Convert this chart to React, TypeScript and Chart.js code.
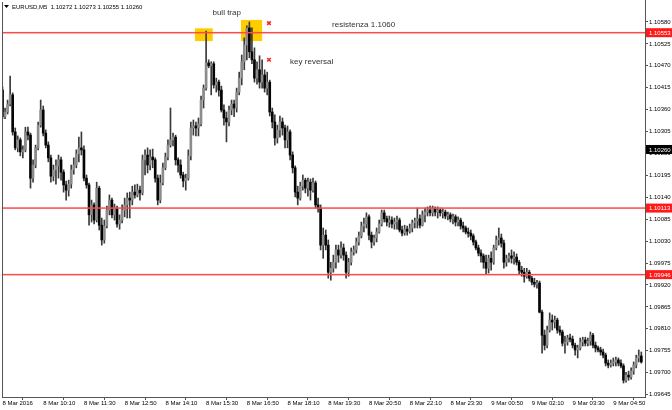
import React, { useEffect, useRef } from 'react';
import { Chart, registerables } from 'chart.js';

Chart.register(...registerables);

// EURUSD M5 bars, 8 Mar 2016 08:50 -> 9 Mar 05:45 (one entry per 5-minute bar)
const openP = [
  1.10409, 1.10342, 1.10354, 1.10374, 1.10397, 1.10304, 1.10264, 1.10284, 1.10254, 1.10259,
  1.10304, 1.10296, 1.10188, 1.10221, 1.10264, 1.10321, 1.10359, 1.10301, 1.10271, 1.10239,
  1.10193, 1.10209, 1.10219, 1.10234, 1.10203, 1.10171, 1.10158, 1.10173, 1.10209, 1.10221,
  1.10249, 1.10264, 1.10259, 1.10188, 1.10171, 1.10096, 1.10121, 1.10083, 1.10163, 1.10070,
  1.10033, 1.10068, 1.10108, 1.10133, 1.10096, 1.10113, 1.10073, 1.10083, 1.10108, 1.10121,
  1.10138, 1.10133, 1.10153, 1.10146, 1.10158, 1.10151, 1.10234, 1.10246, 1.10221, 1.10241,
  1.10234, 1.10188, 1.10133, 1.10176, 1.10214, 1.10241, 1.10271, 1.10284, 1.10291, 1.10234,
  1.10221, 1.10196, 1.10181, 1.10188, 1.10244, 1.10314, 1.10319, 1.10314, 1.10324, 1.10384,
  1.10414, 1.10477, 1.10470, 1.10475, 1.10422, 1.10429, 1.10409, 1.10359, 1.10339, 1.10329,
  1.10359, 1.10374, 1.10364, 1.10404, 1.10439, 1.10480, 1.10522, 1.10565, 1.10505, 1.10485,
  1.10439, 1.10460, 1.10429, 1.10447, 1.10414, 1.10429, 1.10354, 1.10329, 1.10289, 1.10309,
  1.10329, 1.10314, 1.10284, 1.10304, 1.10246, 1.10214, 1.10153, 1.10138, 1.10168, 1.10183,
  1.10163, 1.10178, 1.10158, 1.10176, 1.10121, 1.10113, 1.10020, 1.10045, 1.10020, 1.09952,
  1.09962, 1.09977, 1.10008, 1.09995, 1.10013, 1.09995, 1.09952, 1.09977, 1.10003, 1.10008,
  1.10028, 1.10043, 1.10068, 1.10073, 1.10091, 1.10045, 1.10028, 1.10038, 1.10053, 1.10073,
  1.10101, 1.10086, 1.10078, 1.10083, 1.10073, 1.10078, 1.10083, 1.10058, 1.10050, 1.10060,
  1.10055, 1.10063, 1.10076, 1.10081, 1.10086, 1.10070, 1.10096, 1.10103, 1.10108, 1.10101,
  1.10111, 1.10103, 1.10108, 1.10101, 1.10103, 1.10093, 1.10096, 1.10086, 1.10091, 1.10078,
  1.10083, 1.10068, 1.10063, 1.10053, 1.10050, 1.10043, 1.10028, 1.10013, 1.10000, 1.09993,
  1.09977, 1.09962, 1.09987, 1.09977, 1.10013, 1.10033, 1.10038, 1.10025, 1.09977, 1.09987,
  1.09993, 1.09987, 1.09990, 1.09977, 1.09957, 1.09952, 1.09942, 1.09952, 1.09937, 1.09927,
  1.09922, 1.09925, 1.09852, 1.09794, 1.09769, 1.09807, 1.09832, 1.09827, 1.09832, 1.09807,
  1.09802, 1.09774, 1.09777, 1.09787, 1.09784, 1.09769, 1.09757, 1.09762, 1.09777, 1.09782,
  1.09774, 1.09779, 1.09794, 1.09769, 1.09762, 1.09757, 1.09752, 1.09744, 1.09724, 1.09719,
  1.09724, 1.09727, 1.09732, 1.09724, 1.09717, 1.09681, 1.09694, 1.09689, 1.09704, 1.09719,
  1.09737, 1.09742,
];

const highP = [
  1.10417, 1.10364, 1.10384, 1.10444, 1.10402, 1.10314, 1.10294, 1.10289, 1.10269, 1.10316,
  1.10316, 1.10301, 1.10234, 1.10271, 1.10329, 1.10384, 1.10369, 1.10309, 1.10279, 1.10246,
  1.10221, 1.10234, 1.10246, 1.10241, 1.10209, 1.10181, 1.10183, 1.10221, 1.10239, 1.10259,
  1.10291, 1.10304, 1.10269, 1.10196, 1.10176, 1.10133, 1.10126, 1.10178, 1.10168, 1.10088,
  1.10083, 1.10118, 1.10146, 1.10138, 1.10123, 1.10118, 1.10096, 1.10121, 1.10138, 1.10151,
  1.10153, 1.10168, 1.10171, 1.10173, 1.10168, 1.10246, 1.10259, 1.10264, 1.10259, 1.10261,
  1.10239, 1.10196, 1.10196, 1.10226, 1.10251, 1.10284, 1.10364, 1.10301, 1.10296, 1.10239,
  1.10234, 1.10203, 1.10198, 1.10259, 1.10329, 1.10334, 1.10329, 1.10339, 1.10394, 1.10422,
  1.10557, 1.10485, 1.10480, 1.10480, 1.10439, 1.10434, 1.10419, 1.10372, 1.10354, 1.10369,
  1.10384, 1.10384, 1.10414, 1.10454, 1.10497, 1.10540, 1.10570, 1.10580, 1.10565, 1.10515,
  1.10480, 1.10495, 1.10485, 1.10460, 1.10454, 1.10434, 1.10364, 1.10347, 1.10321, 1.10344,
  1.10339, 1.10321, 1.10319, 1.10309, 1.10254, 1.10219, 1.10168, 1.10178, 1.10196, 1.10188,
  1.10188, 1.10186, 1.10188, 1.10181, 1.10138, 1.10121, 1.10063, 1.10058, 1.10033, 1.09977,
  1.09995, 1.10020, 1.10020, 1.10028, 1.10023, 1.10003, 1.09987, 1.10013, 1.10018, 1.10038,
  1.10053, 1.10078, 1.10088, 1.10101, 1.10096, 1.10053, 1.10045, 1.10063, 1.10083, 1.10108,
  1.10108, 1.10093, 1.10093, 1.10091, 1.10088, 1.10093, 1.10088, 1.10068, 1.10070, 1.10068,
  1.10073, 1.10083, 1.10088, 1.10113, 1.10096, 1.10106, 1.10113, 1.10116, 1.10118, 1.10118,
  1.10116, 1.10116, 1.10113, 1.10111, 1.10108, 1.10103, 1.10101, 1.10098, 1.10096, 1.10091,
  1.10088, 1.10078, 1.10068, 1.10063, 1.10058, 1.10048, 1.10033, 1.10020, 1.10008, 1.09998,
  1.09995, 1.09995, 1.10003, 1.10020, 1.10043, 1.10063, 1.10048, 1.10033, 1.09995, 1.10000,
  1.10008, 1.10003, 1.09998, 1.09982, 1.09967, 1.09962, 1.09962, 1.09957, 1.09942, 1.09937,
  1.09932, 1.09930, 1.09857, 1.09807, 1.09817, 1.09850, 1.09845, 1.09842, 1.09837, 1.09817,
  1.09807, 1.09792, 1.09794, 1.09797, 1.09792, 1.09774, 1.09769, 1.09787, 1.09789, 1.09789,
  1.09787, 1.09802, 1.09799, 1.09777, 1.09767, 1.09764, 1.09759, 1.09749, 1.09732, 1.09732,
  1.09737, 1.09739, 1.09737, 1.09732, 1.09722, 1.09701, 1.09704, 1.09712, 1.09727, 1.09744,
  1.09757, 1.09752,
];

const lowP = [
  1.10337, 1.10337, 1.10349, 1.10369, 1.10296, 1.10259, 1.10254, 1.10244, 1.10239, 1.10254,
  1.10284, 1.10163, 1.10178, 1.10214, 1.10259, 1.10316, 1.10294, 1.10264, 1.10229, 1.10178,
  1.10181, 1.10173, 1.10188, 1.10183, 1.10153, 1.10133, 1.10143, 1.10163, 1.10198, 1.10214,
  1.10229, 1.10246, 1.10181, 1.10163, 1.10070, 1.10078, 1.10073, 1.10078, 1.10058, 1.10020,
  1.10025, 1.10063, 1.10096, 1.10088, 1.10083, 1.10065, 1.10060, 1.10076, 1.10091, 1.10088,
  1.10088, 1.10121, 1.10138, 1.10141, 1.10133, 1.10146, 1.10196, 1.10201, 1.10209, 1.10214,
  1.10178, 1.10121, 1.10126, 1.10171, 1.10209, 1.10234, 1.10266, 1.10269, 1.10221, 1.10203,
  1.10188, 1.10166, 1.10158, 1.10183, 1.10234, 1.10296, 1.10294, 1.10294, 1.10319, 1.10364,
  1.10409, 1.10465, 1.10397, 1.10414, 1.10404, 1.10394, 1.10354, 1.10321, 1.10279, 1.10319,
  1.10347, 1.10342, 1.10354, 1.10397, 1.10422, 1.10460, 1.10485, 1.10490, 1.10475, 1.10429,
  1.10424, 1.10414, 1.10414, 1.10404, 1.10397, 1.10344, 1.10314, 1.10271, 1.10276, 1.10291,
  1.10296, 1.10264, 1.10264, 1.10234, 1.10201, 1.10141, 1.10121, 1.10133, 1.10158, 1.10151,
  1.10143, 1.10133, 1.10153, 1.10113, 1.10103, 1.10008, 1.09987, 1.10008, 1.09937, 1.09932,
  1.09952, 1.09962, 1.09977, 1.09987, 1.09982, 1.09937, 1.09942, 1.09970, 1.09995, 1.10000,
  1.10020, 1.10038, 1.10053, 1.10063, 1.10033, 1.10013, 1.10020, 1.10028, 1.10050, 1.10068,
  1.10078, 1.10068, 1.10065, 1.10063, 1.10060, 1.10060, 1.10053, 1.10043, 1.10045, 1.10045,
  1.10050, 1.10053, 1.10063, 1.10063, 1.10063, 1.10068, 1.10078, 1.10093, 1.10093, 1.10093,
  1.10093, 1.10088, 1.10093, 1.10088, 1.10086, 1.10083, 1.10078, 1.10073, 1.10068, 1.10068,
  1.10060, 1.10053, 1.10048, 1.10040, 1.10033, 1.10020, 1.10008, 1.09993, 1.09977, 1.09962,
  1.09947, 1.09950, 1.09957, 1.09972, 1.10008, 1.10020, 1.10015, 1.09962, 1.09967, 1.09977,
  1.09975, 1.09972, 1.09970, 1.09947, 1.09942, 1.09927, 1.09937, 1.09930, 1.09920, 1.09915,
  1.09912, 1.09850, 1.09749, 1.09757, 1.09762, 1.09802, 1.09807, 1.09812, 1.09799, 1.09794,
  1.09767, 1.09749, 1.09769, 1.09777, 1.09762, 1.09744, 1.09737, 1.09757, 1.09767, 1.09767,
  1.09767, 1.09769, 1.09762, 1.09752, 1.09752, 1.09744, 1.09737, 1.09717, 1.09712, 1.09714,
  1.09717, 1.09717, 1.09717, 1.09712, 1.09674, 1.09676, 1.09681, 1.09684, 1.09696, 1.09712,
  1.09727, 1.09724,
];

const closeP = [
  1.10342, 1.10354, 1.10374, 1.10397, 1.10304, 1.10264, 1.10284, 1.10254, 1.10259, 1.10304,
  1.10296, 1.10188, 1.10221, 1.10264, 1.10321, 1.10359, 1.10301, 1.10271, 1.10239, 1.10193,
  1.10209, 1.10219, 1.10234, 1.10203, 1.10171, 1.10158, 1.10173, 1.10209, 1.10221, 1.10249,
  1.10264, 1.10259, 1.10188, 1.10171, 1.10096, 1.10121, 1.10083, 1.10163, 1.10070, 1.10033,
  1.10068, 1.10108, 1.10133, 1.10096, 1.10113, 1.10073, 1.10083, 1.10108, 1.10121, 1.10138,
  1.10133, 1.10153, 1.10146, 1.10158, 1.10151, 1.10234, 1.10246, 1.10221, 1.10241, 1.10234,
  1.10188, 1.10133, 1.10176, 1.10214, 1.10241, 1.10271, 1.10284, 1.10291, 1.10234, 1.10221,
  1.10196, 1.10181, 1.10188, 1.10244, 1.10314, 1.10319, 1.10314, 1.10324, 1.10384, 1.10414,
  1.10477, 1.10470, 1.10475, 1.10422, 1.10429, 1.10409, 1.10359, 1.10339, 1.10329, 1.10359,
  1.10374, 1.10364, 1.10404, 1.10439, 1.10480, 1.10522, 1.10565, 1.10505, 1.10485, 1.10439,
  1.10460, 1.10429, 1.10447, 1.10414, 1.10429, 1.10354, 1.10329, 1.10289, 1.10309, 1.10329,
  1.10314, 1.10284, 1.10304, 1.10246, 1.10214, 1.10153, 1.10138, 1.10168, 1.10183, 1.10163,
  1.10178, 1.10158, 1.10176, 1.10121, 1.10113, 1.10020, 1.10045, 1.10020, 1.09952, 1.09962,
  1.09977, 1.10008, 1.09995, 1.10013, 1.09995, 1.09952, 1.09977, 1.10003, 1.10008, 1.10028,
  1.10043, 1.10068, 1.10073, 1.10091, 1.10045, 1.10028, 1.10038, 1.10053, 1.10073, 1.10101,
  1.10086, 1.10078, 1.10083, 1.10073, 1.10078, 1.10083, 1.10058, 1.10050, 1.10060, 1.10055,
  1.10063, 1.10076, 1.10081, 1.10086, 1.10070, 1.10096, 1.10103, 1.10108, 1.10101, 1.10111,
  1.10103, 1.10108, 1.10101, 1.10103, 1.10093, 1.10096, 1.10086, 1.10091, 1.10078, 1.10083,
  1.10068, 1.10063, 1.10053, 1.10050, 1.10043, 1.10028, 1.10013, 1.10000, 1.09993, 1.09977,
  1.09962, 1.09987, 1.09977, 1.10013, 1.10033, 1.10038, 1.10025, 1.09977, 1.09987, 1.09993,
  1.09987, 1.09990, 1.09977, 1.09957, 1.09952, 1.09942, 1.09952, 1.09937, 1.09927, 1.09922,
  1.09925, 1.09852, 1.09794, 1.09769, 1.09807, 1.09832, 1.09827, 1.09832, 1.09807, 1.09802,
  1.09774, 1.09777, 1.09787, 1.09784, 1.09769, 1.09757, 1.09762, 1.09777, 1.09782, 1.09774,
  1.09779, 1.09794, 1.09769, 1.09762, 1.09757, 1.09752, 1.09744, 1.09724, 1.09719, 1.09724,
  1.09727, 1.09732, 1.09724, 1.09717, 1.09681, 1.09694, 1.09689, 1.09704, 1.09719, 1.09737,
  1.09742, 1.09727,
];

// time axis labels (every 16 bars = 80 minutes)
const timeTickBars = [0, 16, 32, 48, 64, 80, 96, 112, 128, 144, 160, 176, 192, 208, 224, 240];
const timeLabels = [
  '8 Mar 2016', '8 Mar 10:10', '8 Mar 11:30', '8 Mar 12:50', '8 Mar 14:10', '8 Mar 15:30',
  '8 Mar 16:50', '8 Mar 18:10', '8 Mar 19:30', '8 Mar 20:50', '8 Mar 22:10', '8 Mar 23:30',
  '9 Mar 00:50', '9 Mar 02:10', '9 Mar 03:30', '9 Mar 04:50',
];

// price axis ticks
const priceTicks = [
  1.1058, 1.10525, 1.1047, 1.10415, 1.1036, 1.10305, 1.1025, 1.10195, 1.1014,
  1.10085, 1.1003, 1.09975, 1.0992, 1.09865, 1.0981, 1.09755, 1.097, 1.09645,
];

// horizontal levels
const levelPrices = [1.10553, 1.10113, 1.09946];
const currentPrice = 1.1026;

// annotation marks (bar index, price)
const crossBars = [104.7, 104.7];
const crossPrices = [1.10577, 1.10485];

const headerText = 'EURUSD,M5  1.10272 1.10273 1.10255 1.10260';

const FONT = '"Liberation Sans", Arial, sans-serif';

const boxes = [
  { from: 75.6, to: 82.6, top: 1.10564, bottom: 1.10532 },
  { from: 93.7, to: 102.0, top: 1.10585, bottom: 1.10532 },
];

const notes = [
  { text: 'bull trap', bar: 82.5, price: 1.10603 },
  { text: 'resistenza 1.1060', bar: 129.5, price: 1.10572 },
  { text: 'key reversal', bar: 113.0, price: 1.10479 },
];

const overlayPlugin = {
  id: 'mtOverlay',
  beforeDatasetsDraw(chart: any) {
    const { ctx, scales } = chart;
    const x = scales.x, y = scales.y;
    ctx.save();
    ctx.fillStyle = '#ffcc00';
    for (const b of boxes) {
      const x1 = x.getPixelForValue(b.from);
      const x2 = x.getPixelForValue(b.to);
      const y1 = y.getPixelForValue(b.top);
      const y2 = y.getPixelForValue(b.bottom);
      ctx.fillRect(x1, y1, x2 - x1, y2 - y1);
    }
    ctx.restore();
  },
  afterDatasetsDraw(chart: any) {
    const { ctx, chartArea, scales } = chart;
    const y = scales.y;
    ctx.save();
    ctx.fillStyle = '#ff4a4a';
    for (const p of levelPrices) {
      const py = y.getPixelForValue(p);
      ctx.fillRect(chartArea.left, py - 0.75, chartArea.right - chartArea.left, 1.5);
    }
    ctx.restore();
  },
  afterDraw(chart: any) {
    const { ctx, chartArea, scales, width } = chart;
    const x = scales.x, y = scales.y;
    ctx.save();
    // left frame line
    ctx.strokeStyle = '#555';
    ctx.lineWidth = 1;
    ctx.beginPath();
    ctx.moveTo(chartArea.left + 0.5, chartArea.top);
    ctx.lineTo(chartArea.left + 0.5, chartArea.bottom);
    ctx.stroke();
    // right frame line up to the window top
    ctx.beginPath();
    ctx.moveTo(chartArea.right + 0.5, 0);
    ctx.lineTo(chartArea.right + 0.5, chartArea.top);
    ctx.stroke();

    // price label boxes on the axis
    ctx.font = `6px ${FONT}`;
    ctx.textBaseline = 'middle';
    ctx.textAlign = 'left';
    const drawTag = (p: number, bg: string) => {
      const py = y.getPixelForValue(p);
      ctx.fillStyle = bg;
      ctx.fillRect(chartArea.right + 1, py - 4.5, width - chartArea.right - 1, 9);
      ctx.fillStyle = '#fff';
      ctx.fillText(p.toFixed(5), chartArea.right + 4, py + 0.5);
    };
    for (const p of levelPrices) drawTag(p, '#ff1a1a');
    drawTag(currentPrice, '#000');

    // header
    ctx.fillStyle = '#000';
    ctx.beginPath();
    ctx.moveTo(4, 5);
    ctx.lineTo(9, 5);
    ctx.lineTo(6.5, 8);
    ctx.closePath();
    ctx.fill();
    ctx.font = `6px ${FONT}`;
    ctx.fillText(headerText, 12, 7);

    // text notes
    ctx.font = `8px ${FONT}`;
    ctx.fillStyle = '#333';
    for (const n of notes) {
      ctx.fillText(n.text, x.getPixelForValue(n.bar), y.getPixelForValue(n.price));
    }
    ctx.restore();
  },
};

export default function App() {
  const ref = useRef<HTMLCanvasElement>(null);
  useEffect(() => {
    const bodyData = closeP.map((c, i) => ({ x: i, y: [openP[i], c] }));
    const wickData = closeP.map((_, i) => ({ x: i, y: [lowP[i], highP[i]] }));
    const bodyColors = closeP.map((c, i) => (c >= openP[i] ? '#8c8c8c' : '#050505'));
    const crossData = crossBars.map((b, i) => ({ x: b, y: crossPrices[i] }));

    const chart = new Chart(ref.current as HTMLCanvasElement, {
      type: 'bar',
      data: {
        datasets: [
          {
            type: 'scatter',
            data: crossData,
            pointStyle: 'crossRot',
            radius: 2.5,
            hoverRadius: 2.5,
            borderColor: '#ff2020',
            backgroundColor: '#ff2020',
            borderWidth: 1.5,
          } as any,
          {
            data: bodyData as any,
            backgroundColor: bodyColors,
            borderWidth: 0,
            barThickness: 2,
            minBarLength: 1,
            grouped: false,
          } as any,
          {
            data: wickData as any,
            backgroundColor: '#3a3a3a',
            borderWidth: 0,
            barThickness: 1,
            grouped: false,
          } as any,
        ],
      },
      options: {
        animation: false,
        responsive: true,
        maintainAspectRatio: false,
        devicePixelRatio: 1,
        layout: { autoPadding: false, padding: { left: 2, top: 2, right: 0, bottom: 0 } },
        plugins: { legend: { display: false }, tooltip: { enabled: false } },
        scales: {
          x: {
            type: 'linear',
            min: -0.2,
            max: 252.45,
            offset: false,
            afterBuildTicks: (s: any) => {
              s.ticks = timeTickBars.map((v) => ({ value: v }));
            },
            afterFit: (s: any) => {
              s.height = 13;
              s.paddingLeft = 0;
              s.paddingRight = 0;
            },
            grid: { drawOnChartArea: false, tickLength: 3, tickColor: '#555' },
            border: { color: '#555', width: 1 },
            ticks: {
              autoSkip: false,
              maxRotation: 0,
              minRotation: 0,
              align: 'start',
              padding: 0,
              color: '#000',
              font: { family: FONT, size: 6 },
              callback: (v: any) => {
                const k = timeTickBars.indexOf(Number(v));
                return k >= 0 ? timeLabels[k] : '';
              },
            },
          } as any,
          y: {
            type: 'linear',
            position: 'right',
            min: 1.09639,
            max: 1.1063,
            afterBuildTicks: (s: any) => {
              s.ticks = priceTicks.map((v) => ({ value: v }));
            },
            afterFit: (s: any) => {
              s.width = 27;
              s.paddingTop = 0;
              s.paddingBottom = 0;
            },
            grid: { drawOnChartArea: false, tickLength: 3, tickColor: '#555' },
            border: { color: '#555', width: 1 },
            ticks: {
              autoSkip: false,
              padding: 1,
              color: '#000',
              font: { family: FONT, size: 6 },
              callback: (v: any) => Number(v).toFixed(5),
            },
          } as any,
        },
      },
      plugins: [overlayPlugin],
    });
    return () => chart.destroy();
  }, []);

  return (
    <div style={{ position: 'fixed', left: 0, top: 0, width: 672, height: 410, background: '#fff' }}>
      <canvas ref={ref} />
    </div>
  );
}
